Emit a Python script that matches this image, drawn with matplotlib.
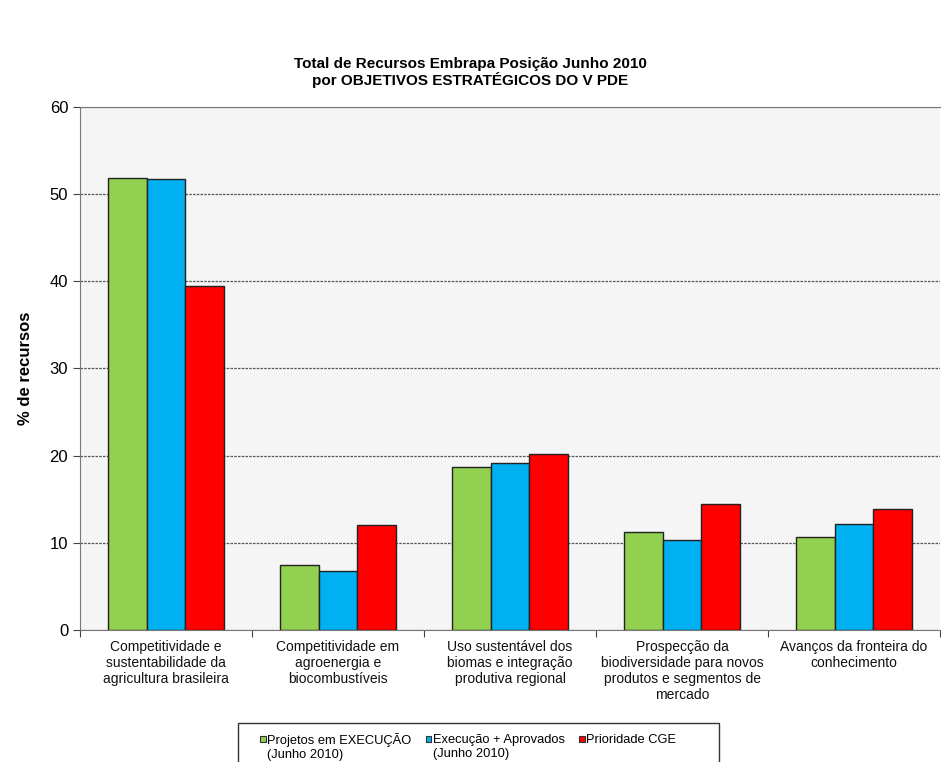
import numpy as np
import matplotlib
matplotlib.use("Agg")
import matplotlib.pyplot as plt
from matplotlib.patches import Patch, Rectangle
from matplotlib.legend_handler import HandlerPatch

plt.rcParams['font.family'] = ['Liberation Sans', 'DejaVu Sans']

categorias = [
    "Competitividade e\nsustentabilidade da\nagricultura brasileira",
    "Competitividade em\nagroenergia e\nbiocombustíveis",
    "Uso sustentável dos\nbiomas e integração\nprodutiva regional",
    "Prospecção da\nbiodiversidade para novos\nprodutos e segmentos de\nmercado",
    "Avanços da fronteira do\nconhecimento",
]
execucao = [51.8, 7.5, 18.7, 11.2, 10.7]
exec_aprovados = [51.7, 6.8, 19.1, 10.3, 12.2]
prioridade_cge = [39.4, 12.0, 20.2, 14.4, 13.9]
series_nomes = ["Projetos em EXECUÇÃO\n(Junho 2010)",
                "Execução + Aprovados\n(Junho 2010)",
                "Prioridade CGE\n "]
cores = ["#92D050", "#00B0F0", "#FF0000"]

fig = plt.figure(figsize=(9.41, 7.62), dpi=100)
ax = fig.add_axes([0.085, 0.1732, 0.914, 0.6866])
ax.set_facecolor("#F5F5F5")

x = np.arange(len(categorias))
w = 0.226
for i, vals in enumerate([execucao, exec_aprovados, prioridade_cge]):
    ax.bar(x + (i - 1) * w, vals, w, color=cores[i], edgecolor="#222222",
           linewidth=1.0, zorder=3)

ax.set_xlim(-0.5, len(categorias) - 0.5)
ax.set_ylim(0, 60)
ax.set_yticks(range(0, 61, 10))
ax.yaxis.grid(True, linestyle=(0, (2, 1)), color="#555555", linewidth=0.9, zorder=0)
ax.set_xticks(np.arange(len(categorias) + 1) - 0.5, minor=False)
ax.set_xticklabels([])
ax.set_xticks(x, minor=True)
ax.set_xticklabels(categorias, minor=True, fontsize=10, color="#111111")
ax.tick_params(axis='x', which='minor', length=0, pad=7)
ax.tick_params(axis='x', which='major', length=5, direction='out', color="#444444")
ax.tick_params(axis='y', labelsize=12, length=5, color="#444444")
for s in ["left", "bottom", "top"]:
    ax.spines[s].set_color("#777777")
ax.spines["right"].set_visible(False)

ax.set_ylabel("% de recursos", fontsize=12, fontweight="bold", labelpad=12)

fig.text(0.5, 0.905, "Total de Recursos Embrapa Posição Junho 2010\npor OBJETIVOS ESTRATÉGICOS DO V PDE",
         ha="center", va="center", fontsize=11, fontweight="bold", linespacing=1.1)


# square markers next to the first line of each label
def quadrado(legend, orig_handle, xdescent, ydescent, width, height, fontsize):
    return Rectangle((-xdescent, -ydescent + 0.6 * fontsize), width, height)


handles = [Patch(facecolor=c, edgecolor="#333333", linewidth=0.8) for c in cores]
leg = fig.legend(handles, series_nomes, loc="upper left", bbox_to_anchor=(260 / 941, 1 - 733 / 762),
                 ncol=3, fontsize=9.3, frameon=False,
                 handlelength=0.45, handleheight=0.45, handletextpad=0.1, columnspacing=1.1,
                 borderpad=0, borderaxespad=0,
                 handler_map={Patch: HandlerPatch(patch_func=quadrado)})

# legend box, bottom runs past the image edge as in the original
fig.add_artist(Rectangle((238 / 941, -0.05), (719 - 238) / 941, 0.05 + (762 - 723) / 762,
                         transform=fig.transFigure, fill=False, edgecolor="#333333", linewidth=1.0))

fig.savefig("out.png", dpi=100)
